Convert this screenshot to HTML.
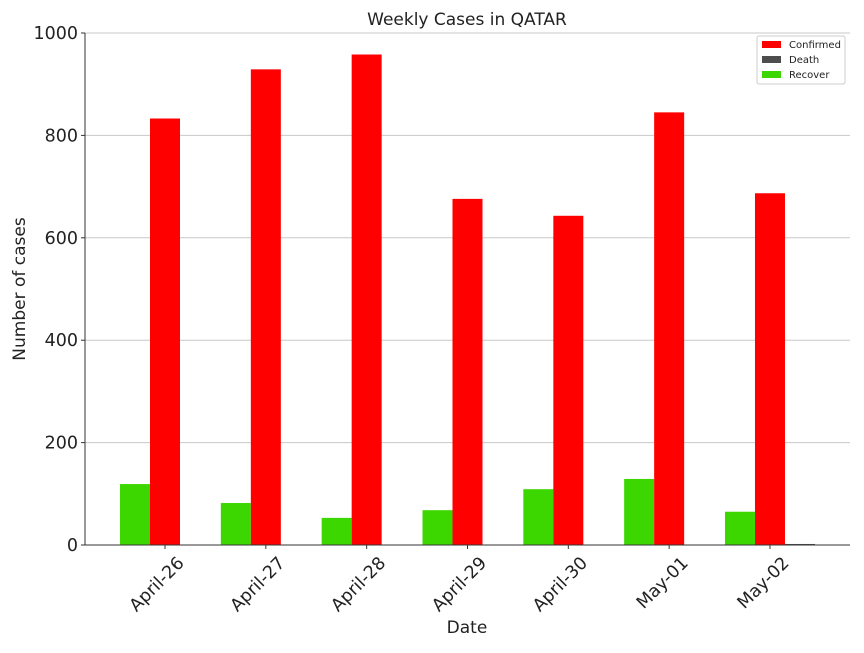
<!DOCTYPE html>
<html><head><meta charset="utf-8"><style>
body{margin:0;background:#fff}
text{font-family:"DejaVu Sans","Liberation Sans",sans-serif;fill:#222}
</style></head><body>
<svg width="864" height="648">
<g id="grid"></g><g id="bars"></g><g id="axes"></g>
<text x="467" y="25" font-size="17" text-anchor="middle">Weekly Cases in QATAR</text>
<text x="467" y="633" font-size="17" text-anchor="middle">Date</text>
<text transform="translate(25,289) rotate(-90)" font-size="17" text-anchor="middle">Number of cases</text>
<g>
<rect x="757" y="36" width="88" height="48" fill="#fff" stroke="#ccc" rx="2"/>
<rect x="762" y="41" width="19" height="7" fill="#ff0000"/><text x="789" y="48" font-size="10">Confirmed</text>
<rect x="762" y="56" width="19" height="7" fill="#4d4d4d"/><text x="789" y="63" font-size="10">Death</text>
<rect x="762" y="71" width="19" height="7" fill="#3cd700"/><text x="789" y="78" font-size="10">Recover</text>
</g>
</svg>
<script>
const categories=["April-26","April-27","April-28","April-29","April-30","May-01","May-02"];
const confirmed=[833,929,958,676,643,845,687];
const deaths=[0,0,0,0,0,0,2];
const recovered=[119,82,53,68,109,129,65];
const yTicks=[0,200,400,600,800,1000];
const NS="http://www.w3.org/2000/svg";
const x0=85,x1=850,yT=33,yB=545;
const y=v=>yB-(v/1000)*(yB-yT);
const xc=i=>165+100.83*i;
const W=30;
function mk(t,a,p){const e=document.createElementNS(NS,t);for(const k in a)e.setAttribute(k,a[k]);document.getElementById(p).appendChild(e);return e;}
yTicks.forEach(t=>{
 const g=mk("line",{x1:x0,x2:x1,y1:y(t),y2:y(t),stroke:"#c8c8c8","stroke-width":1},"grid");
 
 
 mk("line",{x1:x0-4,x2:x0,y1:y(t),y2:y(t),stroke:"#333"},"axes");
 const l=mk("text",{x:x0-7,y:y(t)+6,"font-size":17.5,"text-anchor":"end"},"axes");l.textContent=t;
 
 
});
categories.forEach((c,i)=>{
 const cx=xc(i);
 const b1=mk("rect",{x:cx-15-W,y:y(recovered[i]),width:W,height:yB-y(recovered[i]),fill:"#3cd700"},"bars");
 
 
 const b2=mk("rect",{x:cx-15,y:y(confirmed[i]),width:W,height:yB-y(confirmed[i]),fill:"#ff0000"},"bars");
 
 
 const b3=mk("rect",{x:cx+15,y:y(deaths[i]),width:W,height:yB-y(deaths[i]),fill:"#4d4d4d"},"bars");
 
 
 mk("line",{x1:cx,x2:cx,y1:yB,y2:yB+4,stroke:"#333"},"axes");
 const l=mk("text",{transform:`translate(${cx+20},${yB+19}) rotate(-45)`,"font-size":17.5,"text-anchor":"end"},"axes");l.textContent=c;
 
 
});
mk("line",{x1:x0,x2:x0,y1:yT,y2:yB,stroke:"#333"},"axes");
mk("line",{x1:x0,x2:x1,y1:yB,y2:yB,stroke:"#333"},"axes");
</script>
</body></html>
